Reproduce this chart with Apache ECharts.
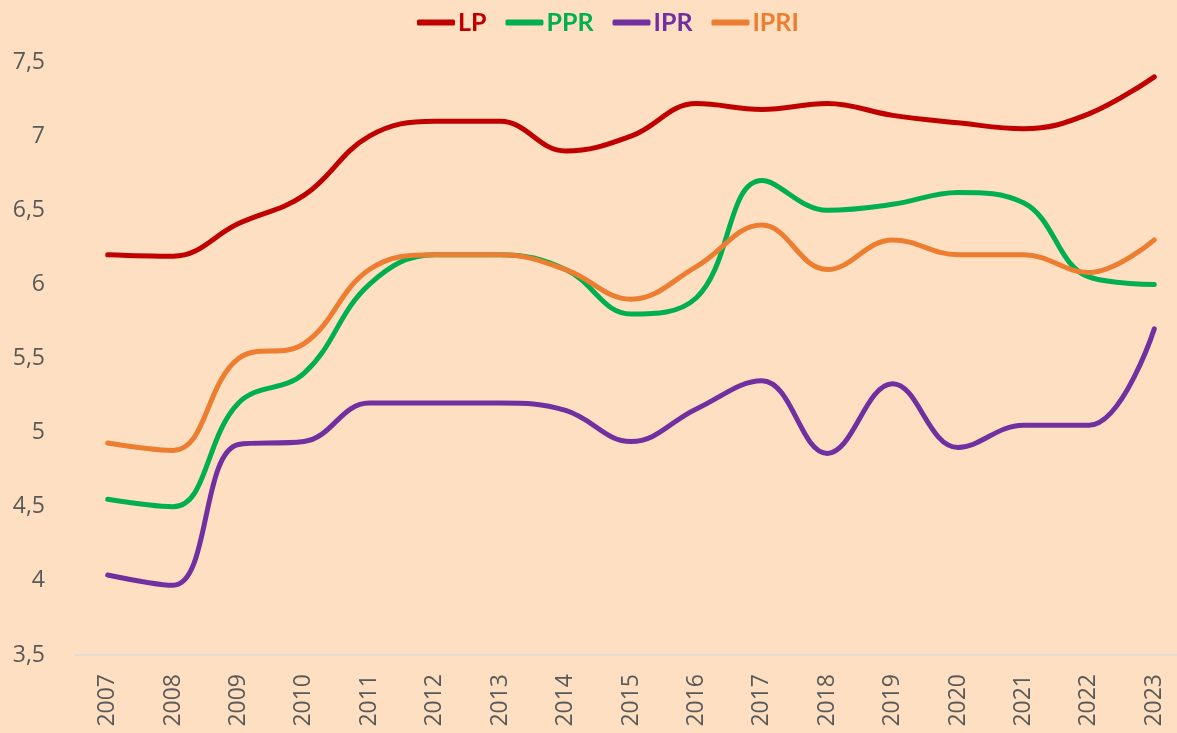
<!DOCTYPE html>
<html>
<head>
<meta charset="utf-8">
<script src="https://cdn.jsdelivr.net/npm/echarts@6/dist/echarts.min.js"></script>
<style>
html,body{margin:0;padding:0;background:#FFDFC1;overflow:hidden;width:1177px;height:733px;}
#chart{width:1187px;height:733px;}
</style>
</head>
<body>
<div id="chart"></div>
<script>
const years = ['2007','2008','2009','2010','2011','2012','2013','2014','2015','2016','2017','2018','2019','2020','2021','2022','2023'];
const LP   = [6.2, 6.19, 6.41, 6.6, 7.0, 7.1, 7.1, 6.9, 7.0, 7.22, 7.18, 7.22, 7.14, 7.09, 7.05, 7.15, 7.4];
const PPR  = [4.55, 4.5, 5.2, 5.4, 6.0, 6.2, 6.2, 6.1, 5.8, 5.91, 6.7, 6.5, 6.54, 6.62, 6.55, 6.05, 6.0];
const IPR  = [4.04, 3.97, 4.92, 4.94, 5.2, 5.2, 5.2, 5.15, 4.94, 5.16, 5.35, 4.86, 5.33, 4.9, 5.05, 5.05, 5.7];
const IPRI = [4.93, 4.88, 5.5, 5.6, 6.1, 6.2, 6.2, 6.1, 5.9, 6.12, 6.4, 6.1, 6.3, 6.2, 6.2, 6.08, 6.3];
const seriesNames = ['LP','PPR','IPR','IPRI'];
const colors = ['#C00000','#00B050','#7030A0','#ED7D31'];
const dataSets = [LP, PPR, IPR, IPRI];

const chart = echarts.init(document.getElementById('chart'));
chart.setOption({
  backgroundColor: '#FFDFC1',
  animation: false,
  textStyle: { fontFamily: 'Lato, "Open Sans", sans-serif' },
  legend: {
    top: 5,
    left: 412,
    icon: 'roundRect',
    itemWidth: 38,
    itemHeight: 6,
    itemGap: 19,
    data: seriesNames.map((n, i) => ({
      name: n,
      itemStyle: { color: colors[i], borderRadius: 3 },
      textStyle: { color: colors[i], fontWeight: 'bold', fontSize: 25, fontFamily: 'Lato, sans-serif', padding: [0, 0, 0, -2] }
    }))
  },
  grid: { left: 75, right: 0, top: 62, bottom: 78, containLabel: false },
  xAxis: {
    type: 'category',
    data: years,
    boundaryGap: true,
    axisLine: { lineStyle: { color: '#D9D9D9', width: 1.5 } },
    axisTick: { show: false },
    axisLabel: { rotate: 90, color: '#595959', fontSize: 23, margin: 19, fontFamily: '"Open Sans", sans-serif' }
  },
  yAxis: {
    type: 'value',
    min: 3.5,
    max: 7.5,
    interval: 0.5,
    splitLine: { show: false },
    axisLine: { show: false },
    axisTick: { show: false },
    axisLabel: {
      color: '#595959', fontSize: 23, margin: 30, fontFamily: '"Open Sans", sans-serif',
      formatter: v => String(v).replace('.', ',')
    }
  },
  series: dataSets.map((d, i) => ({
    name: seriesNames[i],
    type: 'line',
    data: d,
    smooth: 0.4,
    symbol: 'none',
    lineStyle: { color: colors[i], width: 5, cap: 'round' },
    itemStyle: { color: colors[i] }
  }))
});
</script>
</body>
</html>
